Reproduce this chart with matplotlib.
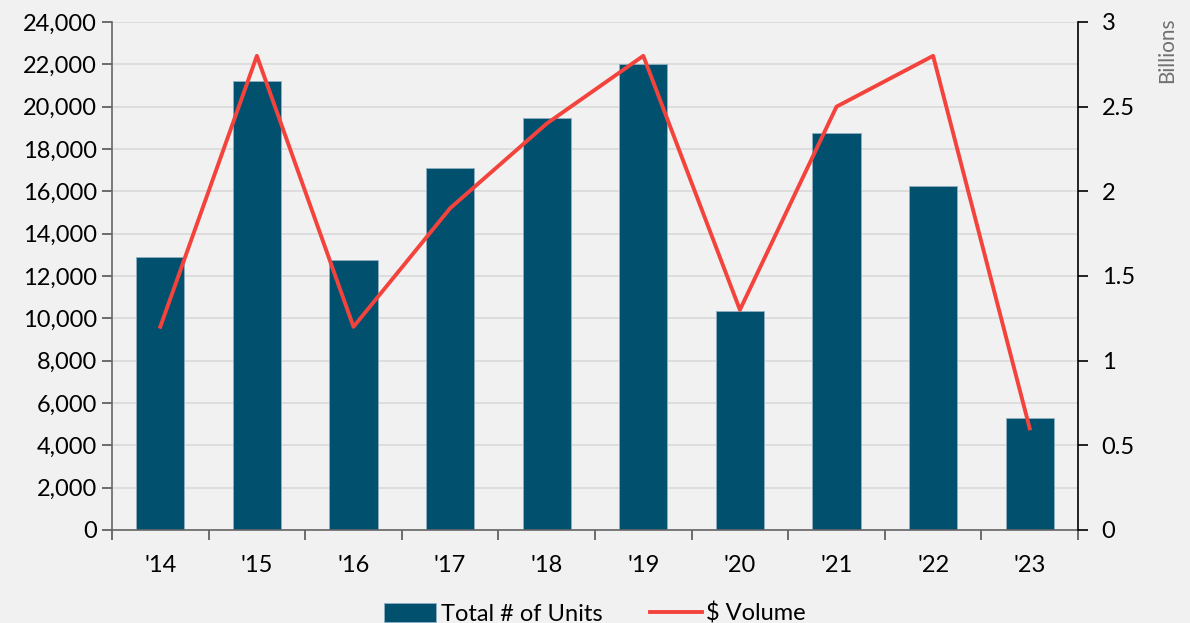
import numpy as np
import matplotlib.pyplot as plt
from matplotlib.ticker import FuncFormatter, MultipleLocator

# units sold (bars, left axis) and dollar volume in billions (line, right axis)
years = ["'14", "'15", "'16", "'17", "'18", "'19", "'20", "'21", "'22", "'23"]
units = [12900, 21200, 12750, 17100, 19450, 22000, 10350, 18750, 16250, 5300]
volume = [1.2, 2.8, 1.2, 1.9, 2.4, 2.8, 1.3, 2.5, 2.8, 0.6]

bg = '#f0f1f0'
bar_color = '#00506e'
line_color = '#f4433c'

plt.rcParams['font.family'] = ['Lato', 'DejaVu Sans']

fig = plt.figure(figsize=(11.9, 6.23), dpi=100, facecolor=bg)
ax = fig.add_axes([0.0941, 0.1493, 0.8118, 0.8154], facecolor=bg)
ax2 = ax.twinx()

x = np.arange(len(years))
ax.bar(x, units, width=0.5, color=bar_color, edgecolor='#8fb0c0', linewidth=0.6,
       label='Total # of Units', zorder=2)
ax2.plot(x, volume, color=line_color, lw=2.8, label='$ Volume', zorder=3)

ax.set_xlim(-0.5, len(years) - 0.5)
ax.set_ylim(0, 24000)
ax2.set_ylim(0, 3)
ax.yaxis.set_major_locator(MultipleLocator(2000))
ax.yaxis.set_major_formatter(FuncFormatter(lambda v, p: f'{int(v):,}'))
ax2.yaxis.set_major_locator(MultipleLocator(0.5))
ax2.yaxis.set_major_formatter(FuncFormatter(lambda v, p: f'{v:g}'))

ax.grid(axis='y', color='#d8d9d8', lw=1.2, zorder=0)
ax.set_axisbelow(True)

# category labels in the middle, tick marks on the boundaries
ax.set_xticks(x)
ax.set_xticklabels(years)
ax.set_xticks(np.arange(-0.5, len(years)), minor=True)
ax.tick_params(axis='x', which='major', length=0, pad=18, labelsize=17)
ax.tick_params(axis='x', which='minor', length=7, width=1.2, color='#555555')
ax.tick_params(axis='y', length=7, width=1.2, color='#555555', labelsize=17, pad=4)
ax2.tick_params(axis='y', length=7, width=1.2, color='black', labelsize=17, pad=10)

for s in ['top', 'right']:
    ax.spines[s].set_visible(False)
for s in ['top', 'left', 'bottom']:
    ax2.spines[s].set_visible(False)
ax.spines['left'].set_color('#666666')
ax.spines['bottom'].set_color('#666666')
ax.spines['left'].set_linewidth(1.2)
ax.spines['bottom'].set_linewidth(1.2)
ax2.spines['right'].set_color('black')
ax2.spines['right'].set_linewidth(1.2)

fig.text(0.981, 0.92, 'Billions', rotation=90, ha='center', va='center',
         fontsize=15, color='#707070')

h1, l1 = ax.get_legend_handles_labels()
h2, l2 = ax2.get_legend_handles_labels()
fig.legend(h1 + h2, l1 + l2, loc='lower center', bbox_to_anchor=(0.5, -0.037),
           ncol=2, frameon=False, fontsize=17, handlelength=2.2,
           handleheight=0.9, handletextpad=0.2, columnspacing=2.0)

fig.savefig('out.png', dpi=100, facecolor=bg)
